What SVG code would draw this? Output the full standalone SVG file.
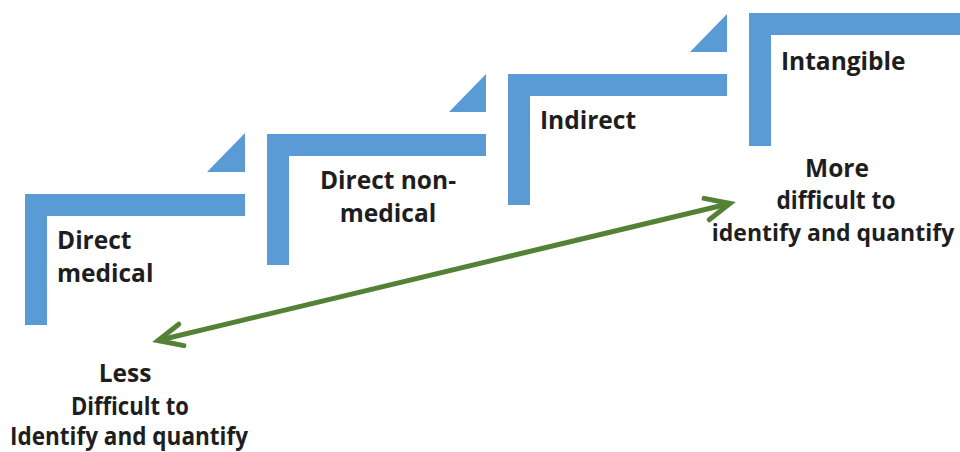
<svg xmlns="http://www.w3.org/2000/svg" width="960" height="452" viewBox="0 0 960 452">
<style>
.bar{fill:#5B9BD5}
.t{font-family:"Open Sans","Liberation Sans",sans-serif;font-weight:700;font-size:24.5px;fill:#1e1e1e}
.c{text-anchor:middle}
</style>
<defs>
<marker id="chev" markerUnits="userSpaceOnUse" viewBox="-30 -16 34 32" refX="0" refY="0" markerWidth="34" markerHeight="32" orient="auto-start-reverse" overflow="visible">
<path d="M-24,-11 L0,0 L-24,11" fill="none" stroke="#538135" stroke-width="5" stroke-linejoin="miter" stroke-linecap="round"/>
</marker>
</defs>
<rect width="960" height="452" fill="#fff"/>
<g id="step-direct-medical">
<path class="bar" d="M25,194 H245 V216 H47 V325 H25 Z"/>
<path class="bar" d="M245,133 V172 H207 Z"/>
<text class="t" x="57" y="249">Direct</text>
<text class="t" x="57" y="282">medical</text>
</g>
<g id="step-direct-nonmedical">
<path class="bar" d="M267,134 H486 V156 H289 V265 H267 Z"/>
<path class="bar" d="M486,74 V112 H449 Z"/>
<text class="t c" x="388" y="189">Direct non-</text>
<text class="t c" x="388" y="222">medical</text>
</g>
<g id="step-indirect">
<path class="bar" d="M508,74 H727 V96 H530 V205 H508 Z"/>
<path class="bar" d="M727,14 V52 H690 Z"/>
<text class="t" x="540" y="129">Indirect</text>
</g>
<g id="step-intangible">
<path class="bar" d="M749,13 H960 V35 H771 V146 H749 Z"/>
<text class="t" x="781" y="70">Intangible</text>
</g>
<g id="label-more">
<text class="t c" x="837" y="177">More</text>
<text class="t c" x="836" y="209" textLength="119" lengthAdjust="spacingAndGlyphs">difficult to</text>
<text class="t c" x="833" y="241" style="font-size:23px">identify and quantify</text>
</g>
<g id="label-less">
<text class="t c" x="125" y="382">Less</text>
<text class="t c" x="130" y="415" textLength="118" lengthAdjust="spacingAndGlyphs">Difficult to</text>
<text class="t c" x="129" y="445" textLength="238" lengthAdjust="spacingAndGlyphs">Identify and quantify</text>
</g>
<g id="connectors">
<line x1="158" y1="340.5" x2="730" y2="203.5" stroke="#538135" stroke-width="5" marker-start="url(#chev)" marker-end="url(#chev)"/>
</g>
</svg>
